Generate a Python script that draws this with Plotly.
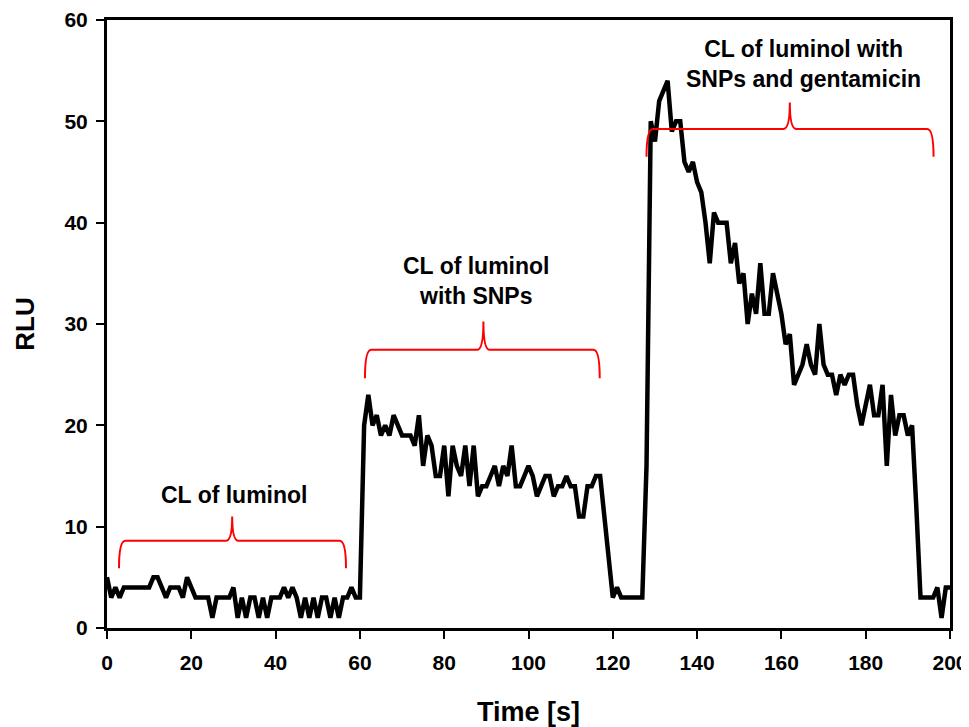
import plotly.graph_objects as go

# ---- data ----
time_s = list(range(0, 201))
rlu = [
    5, 3, 4, 3, 4, 4, 4, 4, 4, 4,      # 0-9
    4, 5, 5, 4, 3, 4, 4, 4, 3, 5,      # 10-19
    4, 3, 3, 3, 3, 1, 3, 3, 3, 3,      # 20-29
    4, 1, 3, 1, 3, 3, 1, 3, 1, 3,      # 30-39
    3, 3, 4, 3, 4, 3, 1, 3, 1, 3,      # 40-49
    1, 3, 3, 1, 3, 1, 3, 3, 4, 3,      # 50-59
    3, 20, 23, 20, 21, 19, 20, 19, 21, 20,   # 60-69
    19, 19, 19, 18, 21, 16, 19, 18, 15, 15,  # 70-79
    18, 13, 18, 16, 15, 18, 14, 18, 13, 14,  # 80-89
    14, 15, 16, 14, 16, 15, 18, 14, 14, 15,  # 90-99
    16, 15, 13, 14, 15, 15, 13, 14, 14, 15,  # 100-109
    14, 14, 11, 11, 14, 14, 15, 15, 11, 6,   # 110-119
    3, 4, 3, 3, 3, 3, 3, 3, 16, 50,          # 120-129
    48, 52, 53, 54, 49, 50, 50, 46, 45, 46,  # 130-139
    44, 43, 40, 36, 41, 40, 40, 40, 36, 38,  # 140-149
    34, 35, 30, 33, 31, 36, 31, 31, 35, 33,  # 150-159
    31, 28, 29, 24, 25, 26, 28, 26, 25, 30,  # 160-169
    26, 25, 25, 23, 25, 24, 25, 25, 22, 20,  # 170-179
    22, 24, 21, 21, 24, 16, 23, 19, 21, 21,  # 180-189
    19, 20, 12, 3, 3, 3, 3, 4, 1, 4,         # 190-199
    4,                                       # 200
]

x_ticks = [0, 20, 40, 60, 80, 100, 120, 140, 160, 180, 200]
y_ticks = [0, 10, 20, 30, 40, 50, 60]

# braces: start, end, tip x, bar level, tip level, end level
brace_start = [2.85, 61.2, 128.0]
brace_end = [56.7, 116.9, 196.1]
brace_mid = [29.7, 89.3, 162.0]
brace_bar = [8.6, 27.45, 49.25]
brace_tip = [11.0, 30.25, 51.85]
brace_foot = [5.9, 24.65, 46.5]

label_text = ["CL of luminol", "CL of luminol<br>with SNPs",
              "CL of luminol with<br>SNPs and gentamicin"]
label_x = [30.2, 87.7, 165.3]
label_y = [13.1, 34.2, 55.7]

FONT = "Liberation Sans, Arial, sans-serif"

fig = go.Figure()
fig.add_trace(go.Scatter(x=time_s, y=rlu, mode="lines",
                         line=dict(color="black", width=4.5),
                         showlegend=False, hoverinfo="skip"))

shapes = []
rx = 1.5
for xs, xe, xm, yb, yt, yf in zip(brace_start, brace_end, brace_mid,
                                   brace_bar, brace_tip, brace_foot):
    p = (f"M {xs},{yf} Q {xs},{yb} {xs+rx},{yb} "
         f"L {xm-rx},{yb} Q {xm},{yb} {xm},{yt} "
         f"Q {xm},{yb} {xm+rx},{yb} "
         f"L {xe-rx},{yb} Q {xe},{yb} {xe},{yf}")
    shapes.append(dict(type="path", path=p, xref="x", yref="y",
                       line=dict(color="red", width=2)))

annotations = []
for t, x, y in zip(label_text, label_x, label_y):
    annotations.append(dict(x=x, y=y, xref="x", yref="y", text=t,
                            showarrow=False, align="center",
                            font=dict(family=FONT, size=23, color="black",
                                      weight="bold")))

# page body has an 8px margin, so the figure is sized to fit the window
fig.update_layout(
    width=961, height=719,
    margin=dict(l=99, r=19, t=12, b=99, autoexpand=False),
    plot_bgcolor="white", paper_bgcolor="white",
    shapes=shapes, annotations=annotations,
    font=dict(family=FONT, color="black"),
)
fig.update_xaxes(range=[0, 200], tickvals=x_ticks, ticks="outside",
                 ticklen=8, tickwidth=2, tickcolor="black",
                 showline=True, linewidth=3, linecolor="black", mirror=True,
                 showgrid=False, zeroline=False, automargin=False,
                 tickfont=dict(family=FONT, size=21, weight="bold"),
                 ticklabelstandoff=6,
                 title=dict(text="Time [s]", standoff=29,
                            font=dict(family=FONT, size=27, weight="bold")))
fig.update_yaxes(range=[0, 60], tickvals=y_ticks, ticks="outside",
                 ticklen=8, tickwidth=2, tickcolor="black",
                 showline=True, linewidth=3, linecolor="black", mirror=True,
                 showgrid=False, zeroline=False, automargin=False,
                 tickfont=dict(family=FONT, size=21, weight="bold"),
                 ticklabelstandoff=4,
                 title=dict(text="RLU", standoff=23,
                            font=dict(family=FONT, size=26, weight="bold")))

fig.write_html("out.html")
